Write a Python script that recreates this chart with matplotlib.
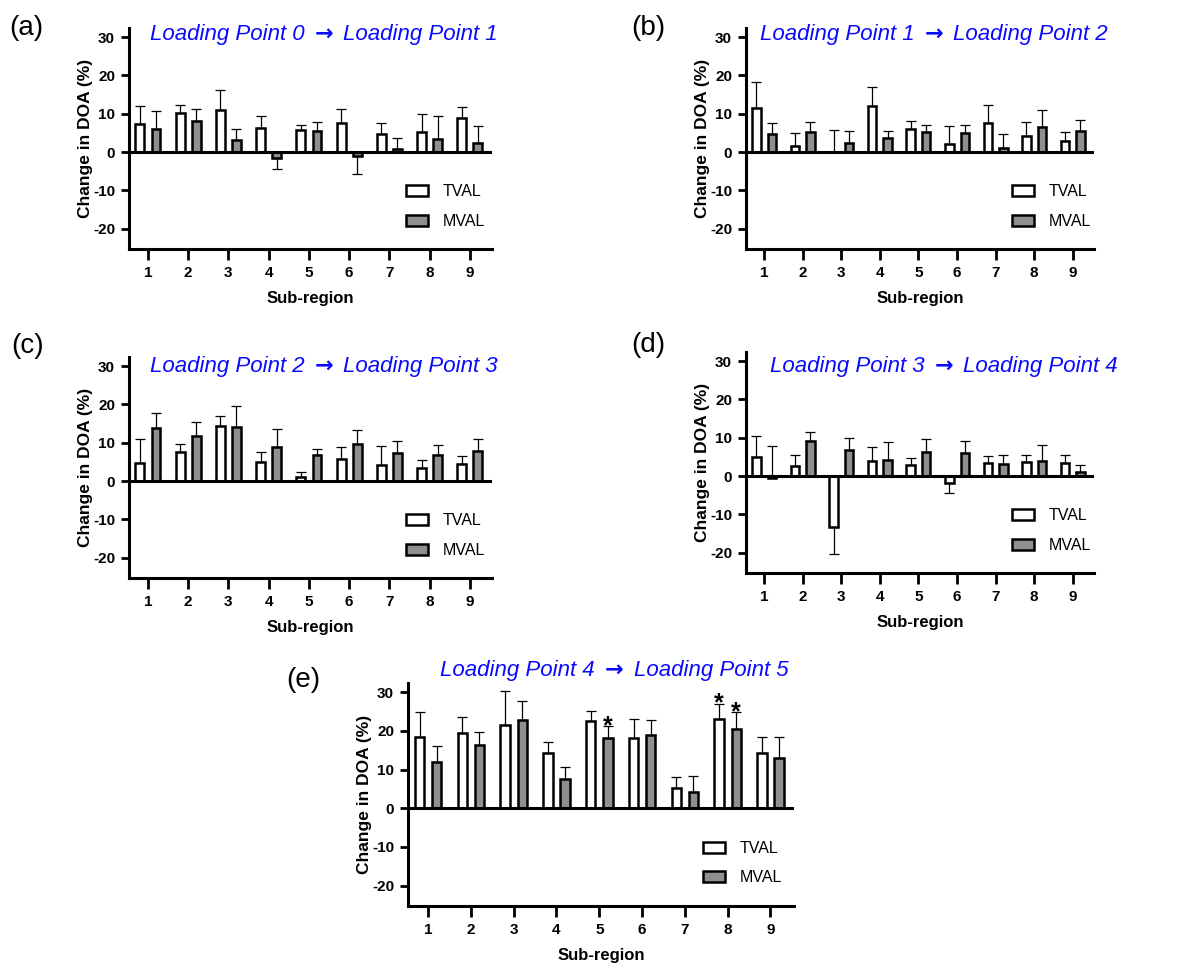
import matplotlib
matplotlib.use("Agg")
import matplotlib.pyplot as plt
import numpy as np

plt.rcParams['font.family'] = ['Liberation Sans', 'DejaVu Sans']
plt.rcParams['axes.unicode_minus'] = False

regions = [1, 2, 3, 4, 5, 6, 7, 8, 9]
series_names = ["TVAL", "MVAL"]

# mean change in DOA (%) per sub-region, and signed error (+ up, - down)
tval_a = [7.4, 10.3, 10.9, 6.3, 5.7, 7.7, 4.7, 5.2, 8.9]
tval_a_err = [4.6, 2.0, 5.4, 3.2, 1.3, 3.6, 3.0, 4.8, 2.9]
mval_a = [5.9, 8.2, 3.1, -1.6, 5.5, -1.1, 0.8, 3.5, 2.3]
mval_a_err = [4.7, 3.0, 3.0, -2.9, 2.4, -4.6, 3.0, 6.0, 4.6]

tval_b = [11.4, 1.6, 0.0, 12.1, 5.9, 2.1, 7.6, 4.1, 2.8]
tval_b_err = [6.9, 3.3, 5.8, 4.9, 2.2, 4.6, 4.7, 3.8, 2.5]
mval_b = [4.8, 5.3, 2.3, 3.7, 5.3, 5.0, 1.2, 6.6, 5.5]
mval_b_err = [2.8, 2.5, 3.1, 1.7, 1.7, 2.0, 3.6, 4.4, 2.9]

tval_c = [4.7, 7.7, 14.5, 4.9, 1.0, 5.7, 4.2, 3.4, 4.5]
tval_c_err = [6.3, 2.0, 2.5, 2.8, 1.4, 3.3, 4.9, 2.2, 2.1]
mval_c = [13.9, 11.9, 14.1, 9.0, 6.7, 9.7, 7.3, 6.7, 7.8]
mval_c_err = [3.9, 3.5, 5.4, 4.5, 1.7, 3.7, 3.1, 2.8, 3.2]

tval_d = [5.0, 2.6, -13.3, 3.9, 3.0, -1.7, 3.4, 3.6, 3.3]
tval_d_err = [5.4, 2.9, -7.0, 3.7, 1.6, -2.6, 1.8, 2.0, 2.1]
mval_d = [-0.4, 9.2, 6.8, 4.1, 6.4, 5.9, 3.1, 4.0, 1.2]
mval_d_err = [8.3, 2.4, 3.2, 4.9, 3.2, 3.3, 2.3, 4.1, 1.7]

tval_e = [18.3, 19.5, 21.6, 14.2, 22.5, 18.2, 5.2, 23.1, 14.2]
tval_e_err = [6.7, 4.2, 8.7, 3.0, 2.7, 4.9, 3.0, 3.9, 4.3]
mval_e = [11.9, 16.3, 22.9, 7.5, 18.2, 19.0, 4.2, 20.5, 13.1]
mval_e_err = [4.2, 3.3, 4.9, 3.1, 3.0, 3.9, 4.1, 4.3, 5.3]
stars_t_e = [8]
stars_m_e = [5, 8]

# title pieces: (from, to)
titles = [("Loading Point 0", "Loading Point 1"),
          ("Loading Point 1", "Loading Point 2"),
          ("Loading Point 2", "Loading Point 3"),
          ("Loading Point 3", "Loading Point 4"),
          ("Loading Point 4", "Loading Point 5")]
letters = ["(a)", "(b)", "(c)", "(d)", "(e)"]

W, H = 1178, 967
fig = plt.figure(figsize=(W / 100, H / 100), dpi=100)
BLUE = "#0a0aff"


def px_axes(l, t, r, b):
    return fig.add_axes([l / W, 1 - b / H, (r - l) / W, (b - t) / H])


def draw_title(ax, parts, xy):
    # arrow drawn in DejaVu Sans, the two halves around it
    ax.text(xy[0], xy[1], "\u2192", transform=ax.transAxes, ha="center", va="baseline",
            color=BLUE, fontsize=16, family="DejaVu Sans", fontweight="bold", clip_on=False)
    ax.annotate(parts[0], xy, xycoords="axes fraction", xytext=(-14, 0),
                textcoords="offset points", ha="right", va="baseline", color=BLUE,
                fontsize=16, style="italic", annotation_clip=False)
    ax.annotate(parts[1], xy, xycoords="axes fraction", xytext=(14, 0),
                textcoords="offset points", ha="left", va="baseline", color=BLUE,
                fontsize=16, style="italic", annotation_clip=False)


def draw_panel(ax, tv, tv_err, mv, mv_err, title, title_xy, stars_t=(), stars_m=()):
    x = np.array(regions, dtype=float)
    off = 0.2
    w = 0.22
    ax.bar(x - off, tv, w, color="white", edgecolor="black", linewidth=1.8,
           label=series_names[0], zorder=3)
    ax.bar(x + off, mv, w, color="#8f8f8f", edgecolor="black", linewidth=1.8,
           label=series_names[1], zorder=3)
    for xs, vals, errs in [(x - off, tv, tv_err), (x + off, mv, mv_err)]:
        vals = np.array(vals)
        errs = np.array(errs)
        lo = np.where(errs < 0, -errs, 0)
        hi = np.where(errs > 0, errs, 0)
        ax.errorbar(xs, vals, yerr=[lo, hi], fmt="none", ecolor="black",
                    elinewidth=0.9, capsize=3.5, capthick=0.9, zorder=2)
    ax.axhline(0, color="black", linewidth=2.2, zorder=4)
    for i in stars_t:
        ax.text(i - off, tv[i - 1] + tv_err[i - 1] - 3.0, "*", ha="center", va="bottom",
                fontsize=18, fontweight="bold")
    for i in stars_m:
        ax.text(i + off, mv[i - 1] + mv_err[i - 1] - 3.0, "*", ha="center", va="bottom",
                fontsize=18, fontweight="bold")

    ax.set_xlim(0.53, 9.55)
    ax.set_ylim(-25.3, 32.4)
    ax.set_xticks(regions)
    ax.set_yticks([-20, -10, 0, 10, 20, 30])
    for s in ["top", "right"]:
        ax.spines[s].set_visible(False)
    for s in ["left", "bottom"]:
        ax.spines[s].set_linewidth(2.2)
    ax.tick_params(axis="both", width=2, length=6, labelsize=11, pad=4)
    ax.tick_params(axis="x", length=8)
    for lab in ax.get_xticklabels() + ax.get_yticklabels():
        lab.set_fontweight("bold")
    ax.set_xlabel("Sub-region", fontsize=12, fontweight="bold", labelpad=8)
    ax.set_ylabel("Change in DOA (%)", fontsize=12.5, fontweight="bold", labelpad=0)
    draw_title(ax, title, title_xy)
    ax.legend(loc="upper left", bbox_to_anchor=(0.763, 0.292), frameon=False,
              fontsize=11.5, handlelength=1.4, handleheight=0.7,
              handletextpad=0.9, labelspacing=0.9, borderpad=0, borderaxespad=0)
    return ax


ax_a = px_axes(129, 28, 492, 249)
draw_panel(ax_a, tval_a, tval_a_err, mval_a, mval_a_err, titles[0], (0.537, 0.946))
ax_b = px_axes(746, 28, 1094, 249)
draw_panel(ax_b, tval_b, tval_b_err, mval_b, mval_b_err, titles[1], (0.540, 0.946))
ax_c = px_axes(129, 357, 492, 578)
draw_panel(ax_c, tval_c, tval_c_err, mval_c, mval_c_err, titles[2], (0.537, 0.934))
ax_d = px_axes(746, 352, 1094, 573)
draw_panel(ax_d, tval_d, tval_d_err, mval_d, mval_d_err, titles[3], (0.569, 0.911))
ax_e = px_axes(408, 683, 794, 906)
draw_panel(ax_e, tval_e, tval_e_err, mval_e, mval_e_err, titles[4], (0.534, 1.031),
           stars_t_e, stars_m_e)

letter_pos = [(9, 28), (631, 28), (11, 346), (631, 345), (286, 680)]
for lt, (lx, ly) in zip(letters, letter_pos):
    fig.text(lx / W, 1 - ly / H, lt, fontsize=20, ha="left", va="center")

fig.savefig("out.png", dpi=100)
